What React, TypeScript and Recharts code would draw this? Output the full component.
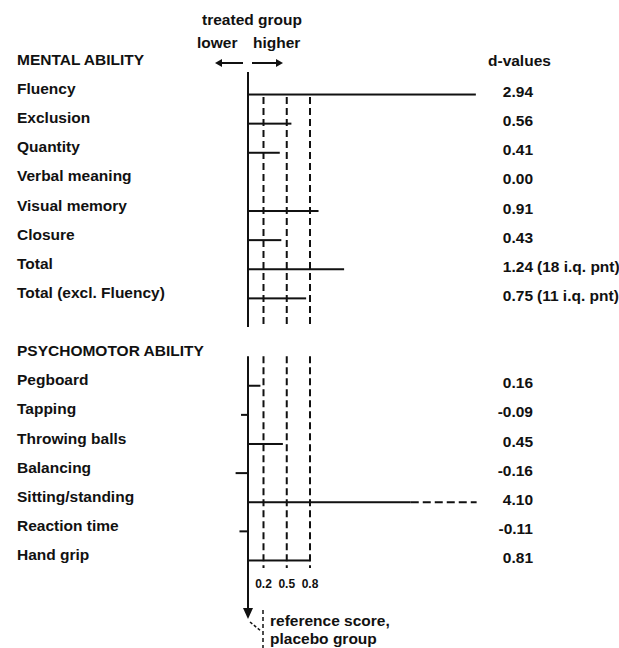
import React from 'react';
import { ComposedChart, Bar, XAxis, YAxis, ReferenceLine } from 'recharts';

// chart data
const mentalTests = ['Fluency', 'Exclusion', 'Quantity', 'Verbal meaning', 'Visual memory', 'Closure', 'Total', 'Total (excl. Fluency)'];
const mentalD = [2.94, 0.56, 0.41, 0.0, 0.91, 0.43, 1.24, 0.75];
const mentalNotes = ['', '', '', '', '', '', '(18 i.q. pnt)', '(11 i.q. pnt)'];
const psychoTests = ['Pegboard', 'Tapping', 'Throwing balls', 'Balancing', 'Sitting/standing', 'Reaction time', 'Hand grip'];
const psychoD = [0.16, -0.09, 0.45, -0.16, 4.1, -0.11, 0.81];
const thresholds = [0.2, 0.5, 0.8];

// values above this are drawn as a broken line
const BREAK_START = 2.1;
const BREAK_END = 2.95;

const INK = '#111';
const FONT = '"Liberation Sans", Arial, Helvetica, sans-serif';
const FS = 15.5;

const MENTAL = 'MENTAL ABILITY';
const PSYCHO = 'PSYCHOMOTOR ABILITY';
const GAP = ' ';

type Row = { name: string; d: number | null; note: string };

const rows: Row[] = [
  { name: MENTAL, d: null, note: '' },
  ...mentalTests.map((name, i) => ({ name, d: mentalD[i], note: mentalNotes[i] })),
  { name: GAP, d: null, note: '' },
  { name: PSYCHO, d: null, note: '' },
  ...psychoTests.map((name, i) => ({ name, d: psychoD[i], note: '' })),
];

const firstMental = mentalTests[0];
const lastPsycho = psychoTests[psychoTests.length - 1];

const DBar = (props: any) => {
  const { x, y, width, height, payload } = props;
  if (!width || payload.d == null) return null;
  const left = Math.min(x, x + width);
  const w = Math.abs(width);
  if (payload.d > BREAK_END) {
    const ppu = w / payload.d;
    const solidEnd = left + BREAK_START * ppu;
    const dashEnd = left + BREAK_END * ppu;
    const cy = y + height / 2;
    return (
      <g>
        <rect x={left} y={y} width={solidEnd - left} height={height} fill={INK} />
        <line x1={solidEnd} x2={dashEnd} y1={cy} y2={cy} stroke={INK} strokeWidth={height} strokeDasharray="8 4" />
      </g>
    );
  }
  return <rect x={left} y={y} width={w} height={height} fill={INK} />;
};

const LabelTick = (props: any) => {
  const { y, payload } = props;
  return (
    <text x={17} y={y} fontFamily={FONT} fontSize={FS} fontWeight="bold" fill={INK} textAnchor="start">
      {payload.value}
    </text>
  );
};

const ValueTick = (props: any) => {
  const { x, y, payload } = props;
  const row = rows.find((r) => r.name === payload.value);
  if (!row || row.d == null) return null;
  return (
    <g fontFamily={FONT} fontSize={FS} fontWeight="bold" fill={INK}>
      <text x={x + 37} y={y + 3} textAnchor="end">{row.d.toFixed(2)}</text>
      {row.note ? <text x={x + 41} y={y + 3} textAnchor="start">{row.note}</text> : null}
    </g>
  );
};

const ThresholdTick = (props: any) => {
  const { x, y, payload } = props;
  return (
    <text x={x} y={y + 13} fontFamily={FONT} fontSize={12} fontWeight="bold" fill={INK} textAnchor="middle">
      {payload.value}
    </text>
  );
};

// segment drawn between two row centres, nudged at either end
const Seg = ({ x1, y1, x2, y2, top = 0, bottom = 0, dash, width = 2 }: any) => (
  <line x1={x1} y1={y1 + top} x2={x2} y2={y2 + bottom} stroke={INK} strokeWidth={width} strokeDasharray={dash} />
);

const ArrowDown = ({ x1, y1, x2, y2, bottom = 0 }: any) => {
  const tip = y2 + bottom;
  return (
    <g>
      <line x1={x1} y1={y1} x2={x2} y2={tip - 9} stroke={INK} strokeWidth={2} />
      <polygon points={`${x2 - 5},${tip - 11} ${x2 + 5},${tip - 11} ${x2},${tip}`} fill={INK} />
      {/* bracket to the reference-score note */}
      <line x1={x2 + 15} y1={tip - 9} x2={x2 + 15} y2={tip + 30} stroke={INK} strokeWidth={1.5} strokeDasharray="4 3" />
      <line x1={x2 + 2} y1={tip + 3} x2={x2 + 13} y2={tip + 12} stroke={INK} strokeWidth={1.5} strokeDasharray="3 2" />
    </g>
  );
};

export default function App() {
  return (
    <div style={{ position: 'absolute', left: 0, top: 0, width: 619, height: 648, background: '#fff' }}>
      <ComposedChart
        width={619}
        height={648}
        layout="vertical"
        data={rows}
        margin={{ top: 50.4, right: 0, bottom: 53.4, left: 0 }}
      >
        <XAxis
          type="number"
          domain={[-0.5, 3.2]}
          allowDataOverflow
          ticks={thresholds}
          height={20}
          axisLine={false}
          tickLine={false}
          tickSize={0}
          tickMargin={0}
          tick={<ThresholdTick />}
          interval={0}
        />
        <YAxis
          yAxisId="left"
          type="category"
          dataKey="name"
          width={209.25}
          axisLine={false}
          tickLine={false}
          tick={<LabelTick />}
          interval={0}
        />
        <YAxis
          yAxisId="right"
          orientation="right"
          type="category"
          dataKey="name"
          width={123}
          axisLine={false}
          tickLine={false}
          tickSize={0}
          tickMargin={0}
          tick={<ValueTick />}
          interval={0}
        />

        {/* threshold dashes, mental section */}
        {thresholds.map((t) => (
          <ReferenceLine
            key={`m${t}`}
            yAxisId="left"
            segment={[{ x: t, y: firstMental }, { x: t, y: GAP }]}
            ifOverflow="visible"
            shape={<Seg top={3} dash="7 4" />}
          />
        ))}
        {/* threshold dashes, psychomotor section */}
        {thresholds.map((t) => (
          <ReferenceLine
            key={`p${t}`}
            yAxisId="left"
            segment={[{ x: t, y: PSYCHO }, { x: t, y: lastPsycho }]}
            ifOverflow="visible"
            shape={<Seg bottom={8} dash="7 4" />}
          />
        ))}
        {/* zero axis */}
        <ReferenceLine
          yAxisId="left"
          segment={[{ x: 0, y: MENTAL }, { x: 0, y: GAP }]}
          ifOverflow="visible"
          shape={<Seg top={7} />}
        />
        <ReferenceLine
          yAxisId="left"
          segment={[{ x: 0, y: PSYCHO }, { x: 0, y: lastPsycho }]}
          ifOverflow="visible"
          shape={<ArrowDown bottom={59} />}
        />

        <Bar yAxisId="left" dataKey="d" barSize={2} shape={<DBar />} isAnimationActive={false} />
      </ComposedChart>

      <svg
        width={619}
        height={648}
        style={{ position: 'absolute', left: 0, top: 0, pointerEvents: 'none' }}
        fontFamily={FONT}
        fontWeight="bold"
        fontSize={FS}
        fill={INK}
      >
        <text x={252} y={25} textAnchor="middle">treated group</text>
        <text x={197} y={48}>lower</text>
        <text x={253} y={48}>higher</text>
        <line x1={221} y1={63} x2={243} y2={63} stroke={INK} strokeWidth={2} />
        <polygon points="215,63 222,59 222,67" fill={INK} />
        <line x1={252} y1={63} x2={276} y2={63} stroke={INK} strokeWidth={2} />
        <polygon points="283,63 276,59 276,67" fill={INK} />
        <text x={488} y={66}>d-values</text>
        <text x={270} y={626}>reference score,</text>
        <text x={270} y={644}>placebo group</text>
      </svg>
    </div>
  );
}
